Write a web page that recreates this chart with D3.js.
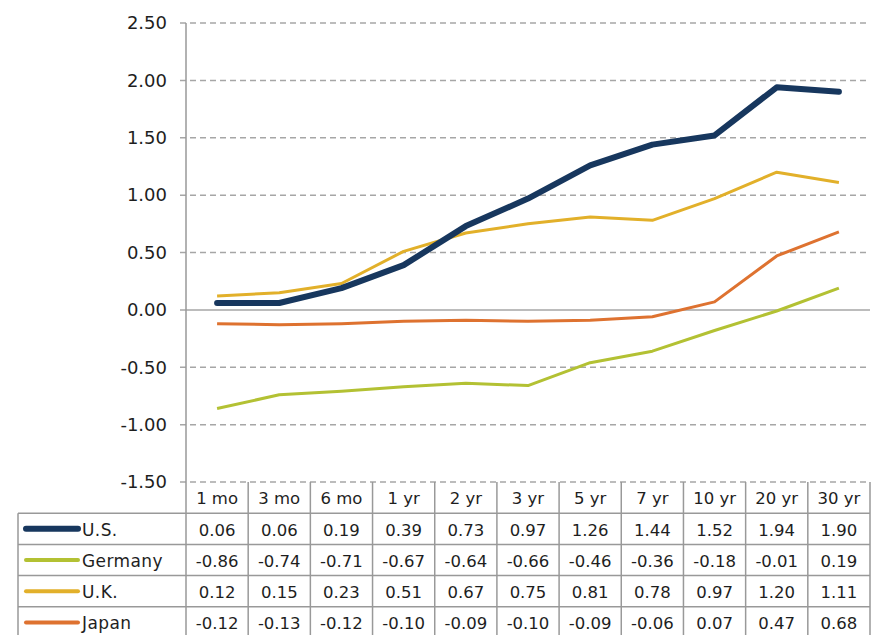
<!DOCTYPE html>
<html>
<head>
<meta charset="utf-8">
<script src="https://cdn.jsdelivr.net/npm/d3@7"></script>
<style>
  body { margin: 0; background: #fff; }
  text { font-family: "DejaVu Sans", "Noto Sans", sans-serif; fill: #1e1e1e; }
</style>
</head>
<body>
<script>
  const width = 890, height = 635;

  const maturities = ["1 mo", "3 mo", "6 mo", "1 yr", "2 yr", "3 yr", "5 yr", "7 yr", "10 yr", "20 yr", "30 yr"];
  const seriesNames = ["U.S.", "Germany", "U.K.", "Japan"];
  const usYields = [0.06, 0.06, 0.19, 0.39, 0.73, 0.97, 1.26, 1.44, 1.52, 1.94, 1.90];
  const germanyYields = [-0.86, -0.74, -0.71, -0.67, -0.64, -0.66, -0.46, -0.36, -0.18, -0.01, 0.19];
  const ukYields = [0.12, 0.15, 0.23, 0.51, 0.67, 0.75, 0.81, 0.78, 0.97, 1.20, 1.11];
  const japanYields = [-0.12, -0.13, -0.12, -0.10, -0.09, -0.10, -0.09, -0.06, 0.07, 0.47, 0.68];
  const yTicks = [2.5, 2.0, 1.5, 1.0, 0.5, 0.0, -0.5, -1.0, -1.5];

  const colors = ["#17375e", "#b3c133", "#e2b02a", "#de7230"];
  const widths = [6, 3, 3, 3];
  const allSeries = [usYields, germanyYields, ukYields, japanYields];

  const plotLeft = 186, plotRight = 870, plotTop = 23, plotBottom = 482;
  const rowH = 31.2;
  const legendLeft = 18;

  const svg = d3.select("body").append("svg")
    .attr("width", width).attr("height", height);

  const x = d3.scaleBand().domain(maturities).range([plotLeft, plotRight]);
  const y = d3.scaleLinear().domain([-1.5, 2.5]).range([plotBottom, plotTop]);

  // gridlines
  svg.append("g").selectAll("line")
    .data(yTicks)
    .enter().append("line")
      .attr("x1", plotLeft - 6).attr("x2", plotRight)
      .attr("y1", d => y(d)).attr("y2", d => y(d))
      .style("stroke", "#a6a6a6")
      .style("stroke-width", 1.5)
      .style("stroke-dasharray", d => d === 0 ? null : "6,4");

  svg.append("g").selectAll("text")
    .data(yTicks)
    .enter().append("text")
      .attr("x", plotLeft - 19).attr("y", d => y(d))
      .attr("dy", "0.35em")
      .attr("text-anchor", "end")
      .style("font-size", "18px")
      .text(d => d.toFixed(2));

  // lines
  const line = d3.line()
    .x((d, i) => x(maturities[i]) + x.bandwidth() / 2)
    .y(d => y(d));

  [1, 3, 2, 0].forEach(k => {
    svg.append("path")
      .datum(allSeries[k])
      .attr("d", line)
      .style("fill", "none")
      .style("stroke", colors[k])
      .style("stroke-width", widths[k])
      .style("stroke-linecap", k === 0 ? "round" : "butt")
      .style("stroke-linejoin", "round");
  });

  // y axis line
  svg.append("line")
    .attr("x1", plotLeft).attr("x2", plotLeft)
    .attr("y1", plotTop).attr("y2", height)
    .style("stroke", "#999").style("stroke-width", 1.5);

  // table
  const table = svg.append("g");
  const gridColor = "#999";

  table.selectAll(".hdr")
    .data(maturities)
    .enter().append("text")
      .attr("x", d => x(d) + x.bandwidth() / 2)
      .attr("y", plotBottom + rowH / 2 + 1)
      .attr("dy", "0.35em")
      .attr("text-anchor", "middle")
      .style("font-size", "16.5px")
      .text(d => d);

  table.selectAll(".vl")
    .data(maturities)
    .enter().append("line")
      .attr("x1", d => x(d) + x.bandwidth()).attr("x2", d => x(d) + x.bandwidth())
      .attr("y1", plotBottom).attr("y2", height)
      .style("stroke", gridColor).style("stroke-width", 1.5);

  const rowTops = seriesNames.map((s, i) => plotBottom + rowH * (i + 1));
  table.selectAll(".hl")
    .data(rowTops)
    .enter().append("line")
      .attr("x1", legendLeft).attr("x2", plotRight)
      .attr("y1", d => d).attr("y2", d => d)
      .style("stroke", gridColor).style("stroke-width", 1.5);

  table.append("line")
    .attr("x1", legendLeft).attr("x2", legendLeft)
    .attr("y1", rowTops[0]).attr("y2", height)
    .style("stroke", gridColor).style("stroke-width", 1.5);

  seriesNames.forEach((name, i) => {
    const cy = rowTops[i] + rowH / 2;
    table.append("line")
      .attr("x1", 26).attr("x2", 78)
      .attr("y1", cy).attr("y2", cy)
      .style("stroke", colors[i])
      .style("stroke-width", i === 0 ? 6 : 4)
      .style("stroke-linecap", "round");
    table.append("text")
      .attr("x", 82).attr("y", cy + 1)
      .attr("dy", "0.35em")
      .style("font-size", "17px")
      .style("letter-spacing", "0.4px")
      .text(name);
    table.selectAll(".v" + i)
      .data(allSeries[i])
      .enter().append("text")
        .attr("x", (d, j) => x(maturities[j]) + x.bandwidth() / 2)
        .attr("y", cy + 1)
        .attr("dy", "0.35em")
        .attr("text-anchor", "middle")
        .style("font-size", "16.5px")
        .text(d => d.toFixed(2));
  });
</script>
</body>
</html>
